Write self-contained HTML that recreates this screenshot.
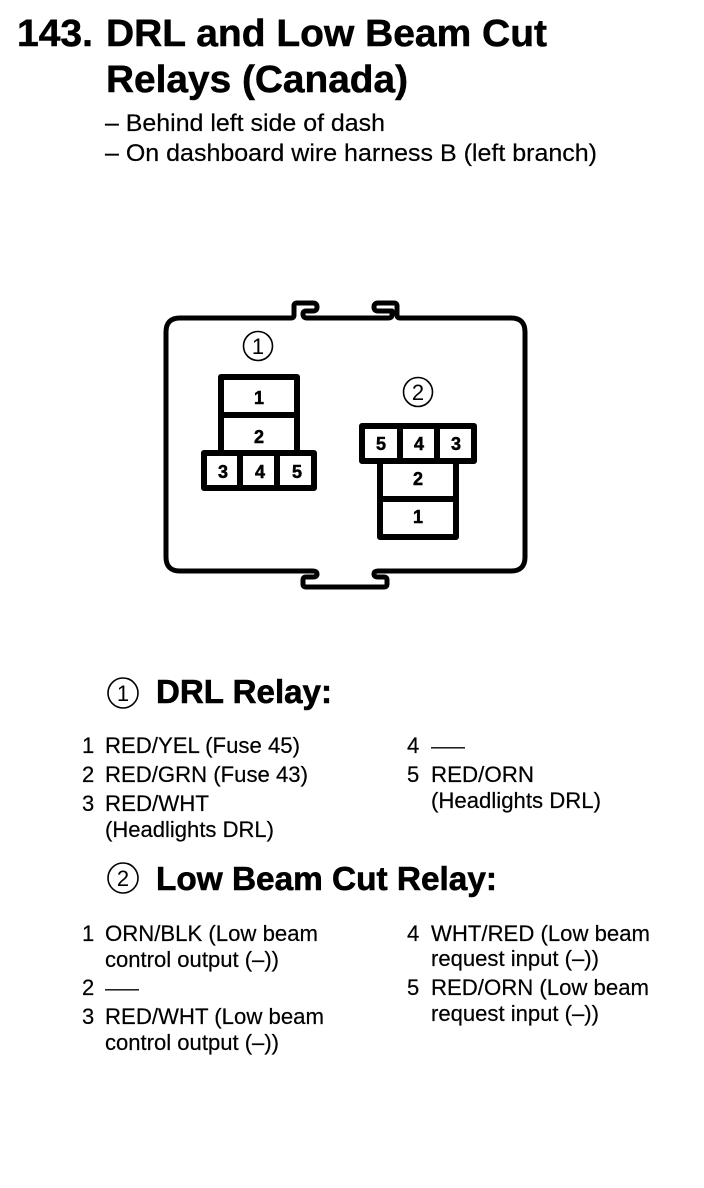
<!DOCTYPE html>
<html><head><meta charset="utf-8"><style>
html,body{margin:0;padding:0;background:#fff}
svg{display:block}
text{font-family:"Liberation Sans",Arial,sans-serif;fill:#000}
.t{font-size:38px;font-weight:bold;stroke:#000;stroke-width:.5px}
.h{font-size:33px;font-weight:bold;stroke:#000;stroke-width:.6px}
.s{font-size:24px;stroke:#000;stroke-width:.2px}
.l{font-size:22px;stroke:#000;stroke-width:.2px}
.d{font-size:21px}
.n{font-size:18px;font-weight:bold;text-anchor:middle;stroke:#000;stroke-width:.5px}
.c{font-size:22px;text-anchor:middle}
</style></head><body>
<svg width="704" height="1188" viewBox="0 0 704 1188" xmlns="http://www.w3.org/2000/svg">
<rect width="704" height="1188" fill="#fff"/>
<text class="t" x="17" y="46" textLength="76" lengthAdjust="spacingAndGlyphs">143.</text>
<text class="t" x="106" y="46" textLength="441" lengthAdjust="spacingAndGlyphs">DRL and Low Beam Cut</text>
<text class="t" x="106" y="92" textLength="302" lengthAdjust="spacingAndGlyphs">Relays (Canada)</text>
<text class="s" x="105" y="131" textLength="280" lengthAdjust="spacingAndGlyphs">– Behind left side of dash</text>
<text class="s" x="105" y="161" textLength="492" lengthAdjust="spacingAndGlyphs">– On dashboard wire harness B (left branch)</text>

<g fill="none" stroke="#000" stroke-width="5" stroke-linejoin="round">
<path d="M180 318H291Q294 318 294 315V306Q294 303 297 303H313Q317 303 317 307Q317 311 313 311H306Q303 311 303 314Q303 318 307 318H388Q392 318 392 315V311H378Q374 311 374 307Q374 303 378 303H394Q397 303 397 306V315Q397 318 400 318H511Q525 318 525 332V557Q525 571 511 571H378Q374 571 374 574Q374 577 378 577H384Q387 577 387 580V584Q387 587 384 587H306Q303 587 303 584V580Q303 577 306 577H313Q317 577 317 574Q317 571 313 571H180Q166 571 166 557V332Q166 318 180 318Z"/>
<path d="M221 453V377H297V453M221 415H297" stroke-width="6"/>
<path d="M204 453H314V488H204ZM240 453V488M277 453V488" stroke-width="6"/>
<path d="M362 426H474V461H362ZM400 426V461M437 426V461" stroke-width="6"/>
<path d="M380 461V537H456V461M380 499H456" stroke-width="6"/>
<circle cx="258" cy="346" r="14.5" stroke-width="1.6"/>
<circle cx="418" cy="392" r="14.5" stroke-width="1.6"/>
<circle cx="123" cy="693" r="15" stroke-width="1.6"/>
<circle cx="123" cy="878" r="15" stroke-width="1.6"/>
</g>
<text class="c" x="258" y="354">1</text>
<text class="c" x="418" y="400">2</text>
<text class="c" x="123" y="701">1</text>
<text class="c" x="123" y="886">2</text>

<text class="n" x="259" y="404">1</text>
<text class="n" x="259" y="443">2</text>
<text class="n" x="223" y="478">3</text>
<text class="n" x="260" y="478">4</text>
<text class="n" x="297" y="478">5</text>
<text class="n" x="381" y="450">5</text>
<text class="n" x="419" y="450">4</text>
<text class="n" x="456" y="450">3</text>
<text class="n" x="418" y="485">2</text>
<text class="n" x="418" y="523">1</text>

<text class="h" x="156" y="703" textLength="176" lengthAdjust="spacingAndGlyphs">DRL Relay:</text>
<text class="h" x="156" y="890" textLength="341" lengthAdjust="spacingAndGlyphs">Low Beam Cut Relay:</text>

<text class="l" x="82" y="753">1</text>
<text class="l" x="105" y="753" textLength="195" lengthAdjust="spacingAndGlyphs">RED/YEL (Fuse 45)</text>
<text class="l" x="82" y="782">2</text>
<text class="l" x="105" y="782" textLength="203" lengthAdjust="spacingAndGlyphs">RED/GRN (Fuse 43)</text>
<text class="l" x="82" y="811">3</text>
<text class="l" x="105" y="811" textLength="104" lengthAdjust="spacingAndGlyphs">RED/WHT</text>
<text class="l" x="105" y="837" textLength="169" lengthAdjust="spacingAndGlyphs">(Headlights DRL)</text>

<text class="l" x="407" y="753">4</text>
<text class="d" x="431" y="753" textLength="34" lengthAdjust="spacingAndGlyphs">—</text>
<text class="l" x="407" y="782">5</text>
<text class="l" x="431" y="782" textLength="103" lengthAdjust="spacingAndGlyphs">RED/ORN</text>
<text class="l" x="431" y="808" textLength="170" lengthAdjust="spacingAndGlyphs">(Headlights DRL)</text>

<text class="l" x="82" y="941">1</text>
<text class="l" x="105" y="941" textLength="213" lengthAdjust="spacingAndGlyphs">ORN/BLK (Low beam</text>
<text class="l" x="105" y="967" textLength="174" lengthAdjust="spacingAndGlyphs">control output (–))</text>
<text class="l" x="82" y="995">2</text>
<text class="d" x="105" y="995" textLength="34" lengthAdjust="spacingAndGlyphs">—</text>
<text class="l" x="82" y="1024">3</text>
<text class="l" x="105" y="1024" textLength="219" lengthAdjust="spacingAndGlyphs">RED/WHT (Low beam</text>
<text class="l" x="105" y="1050" textLength="174" lengthAdjust="spacingAndGlyphs">control output (–))</text>

<text class="l" x="407" y="941">4</text>
<text class="l" x="431" y="941" textLength="219" lengthAdjust="spacingAndGlyphs">WHT/RED (Low beam</text>
<text class="l" x="431" y="966" textLength="168" lengthAdjust="spacingAndGlyphs">request input (–))</text>
<text class="l" x="407" y="995">5</text>
<text class="l" x="431" y="995" textLength="218" lengthAdjust="spacingAndGlyphs">RED/ORN (Low beam</text>
<text class="l" x="431" y="1021" textLength="168" lengthAdjust="spacingAndGlyphs">request input (–))</text>
</svg>
</body></html>
